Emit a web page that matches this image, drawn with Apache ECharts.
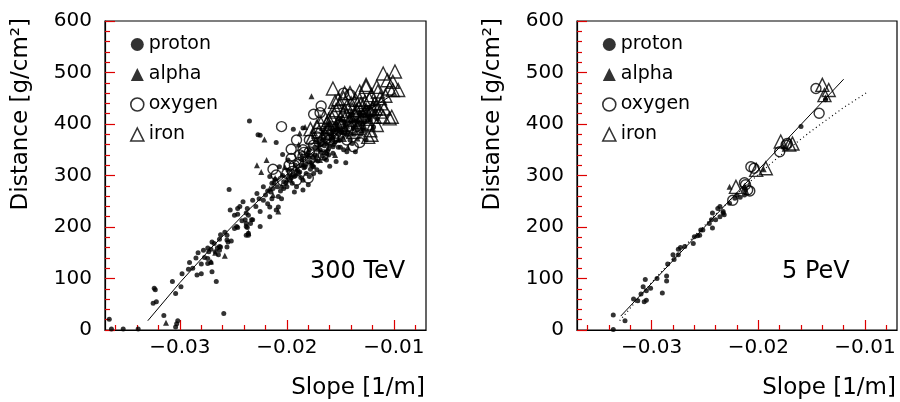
<!DOCTYPE html>
<html>
<head>
<meta charset="utf-8">
<script src="https://cdn.jsdelivr.net/npm/echarts@6/dist/echarts.min.js"></script>
<style>html,body{margin:0;padding:0;background:#fff}#c{width:900px;height:402px}</style>
</head>
<body>
<div id="c"></div>
<script>
// ---------- data ----------
const xMajorTicks = [-0.03, -0.02, -0.01];
const xMinorTicks = [-0.036, -0.034, -0.032, -0.028, -0.026, -0.024, -0.022, -0.018, -0.016, -0.014, -0.012, -0.008];
const panelLabels = ['300 TeV', '5 PeV'];
const speciesNames = ['proton', 'alpha', 'oxygen', 'iron'];

// 300 TeV panel
const proton300 = [[-0.0254,273],[-0.0253,233],[-0.0241,249],[-0.0246,225],[-0.0237,236],[-0.0236,223],[-0.0233,214],[-0.0239,214],[-0.0238,207],[-0.0234,207],[-0.0249,197],[-0.0246,199],[-0.0237,199],[-0.0238,184],[-0.0236,188],[-0.0256,184],[-0.0255,171],[-0.0252,173],[-0.0263,176],[-0.0270,171],[-0.0278,155],[-0.0274,159],[-0.0271,157],[-0.0273,152],[-0.0267,152],[-0.0265,159],[-0.0263,155],[-0.0262,161],[-0.0277,141],[-0.0274,139],[-0.0264,146],[-0.0256,161],[-0.0291,131],[-0.0280,128],[-0.0274,129],[-0.0271,131],[-0.0284,107],[-0.0280,109],[-0.0270,113],[-0.0266,94],[-0.0298,109],[-0.0299,84],[-0.0307,94],[-0.0304,71],[-0.0324,81],[-0.0323,78],[-0.0322,55],[-0.0325,52],[-0.0315,28],[-0.0302,18],[-0.0304,6],[-0.0259,32],[-0.0366,21],[-0.0364,2],[-0.0353,2],[-0.0339,2],[-0.0303,12],
[-0.0235,406],[-0.0227,379],[-0.0225,378],[-0.0210,364],[-0.0194,390],[-0.0204,341],[-0.0199,330],[-0.0246,236],[-0.0249,223],[-0.0238,227],[-0.0225,230],[-0.0222,252],[-0.0216,239],[-0.0208,239],[-0.0208,259],[-0.0213,275],[-0.0200,278],[-0.0197,291],[-0.0193,298],[-0.0188,307],[-0.0183,317],[-0.0179,327],[-0.0174,340],[-0.0169,350],[-0.0163,362],[-0.0157,375],[-0.0225,201],[-0.0232,214],[-0.0238,201],[-0.0236,184],[-0.0247,201],[-0.0256,175],[-0.0263,162],[-0.0210,233],[-0.0216,220],[-0.0207,317],[-0.0216,298],[-0.0222,278],[-0.0228,265],[-0.0232,252],[-0.0179,350],[-0.0172,366],[-0.0166,382],[-0.0160,392],[-0.0154,401],[-0.0185,291],[-0.0179,298],[-0.0172,311],[-0.0191,278],[-0.0185,272],[-0.0163,330],[-0.0157,343],
[-0.0145,325],[-0.0136,346],[-0.0161,340],[-0.0185,392],[-0.0147,350],[-0.0165,333],[-0.0175,317],[-0.0169,307],[-0.0182,304],[-0.0157,356],[-0.0141,369],[-0.0126,369],[-0.0129,392],[-0.0119,394],[-0.0154,327],[-0.0144,346],[-0.0175,304],
[-0.0220,262],[-0.0215,268],[-0.0212,285],[-0.0206,270],[-0.0203,288],[-0.0198,300],[-0.0195,285],[-0.0190,310],[-0.0187,296],[-0.0182,322],[-0.0178,312],[-0.0176,335],[-0.0171,328],[-0.0168,345],[-0.0165,358],[-0.0162,348],[-0.0159,370],[-0.0155,365],[-0.0152,380],[-0.0150,392],[-0.0148,372],[-0.0146,398],[-0.0143,385],[-0.0140,405],[-0.0138,392],[-0.0135,410],[-0.0133,398],[-0.0130,415],[-0.0127,405],[-0.0124,420],[-0.0122,408],[-0.0131,380],[-0.0139,362],[-0.0150,355],[-0.0160,318],[-0.0180,282],[-0.0193,268],[-0.0205,255],[-0.0218,245],[-0.0229,240],[-0.0242,212],[-0.0258,190],[-0.0268,168],[-0.0285,140],[-0.0292,118],
[-0.0218,270],[-0.0214,255],[-0.0211,292],[-0.0209,278],[-0.0204,300],[-0.0201,285],[-0.0199,310],[-0.0196,295],[-0.0192,320],[-0.0189,305],[-0.0186,330],[-0.0184,315],[-0.0181,340],[-0.0177,325],[-0.0174,355],[-0.0173,330],[-0.0170,360],[-0.0167,338],[-0.0164,372],[-0.0161,352],[-0.0158,382],[-0.0156,360],[-0.0153,390],[-0.0151,368],[-0.0149,385],[-0.0147,405],[-0.0144,378],[-0.0142,400],[-0.0139,418],[-0.0137,380],[-0.0134,405],[-0.0132,420],[-0.0129,400],[-0.0128,428],[-0.0125,410],[-0.0123,432],[-0.0121,415],[-0.0118,425],[-0.0134,388],[-0.0146,382],[-0.0156,388],[-0.0168,360],[-0.0180,345],[-0.0192,300],[-0.0203,275],[-0.0214,285],[-0.0226,255],[-0.0244,240],[-0.0262,185],[-0.0283,150],[-0.0288,120],[-0.0152,355],[-0.0140,380],[-0.0128,388],[-0.0116,410],[-0.0163,342],[-0.0176,318],[-0.0187,320]];
const alpha300 = [[-0.0313,14],[-0.0267,150],[-0.0271,133],[-0.0258,144],[-0.0236,189],[-0.0221,370],[-0.0183,394],[-0.0188,382],[-0.0228,320],[-0.0224,307],[-0.0219,330],[-0.0208,230],[-0.0202,317],[-0.0191,311],[-0.0177,323],[-0.0169,330],[-0.0177,454],[-0.0196,302],[-0.0185,322],[-0.0172,340],[-0.0160,360],[-0.0152,372],[-0.0145,392],[-0.0138,410],[-0.0130,388],[-0.0125,430],[-0.0162,385],[-0.0150,410],[-0.0140,425],[-0.0205,280],[-0.0213,262],[-0.0165,345],[-0.0155,340],
[-0.0200,292],[-0.0194,308],[-0.0186,340],[-0.0179,338],[-0.0171,352],[-0.0167,370],[-0.0158,375],[-0.0154,395],[-0.0148,385],[-0.0142,415],[-0.0136,398],[-0.0132,425],[-0.0127,418],[-0.0120,440],[-0.0118,420],[-0.0143,355],[-0.0134,372],[-0.0189,360],[-0.0211,295],[-0.0216,275]];
const oxygen300 = [[-0.0205,395],[-0.0196,351],[-0.0213,312],[-0.0210,301],[-0.0175,419],[-0.0168,435],[-0.0169,422],[-0.0179,346],[-0.0188,340],[-0.0180,295],[-0.0191,291],[-0.0196,333],[-0.0185,350],[-0.0172,382],[-0.0160,369],[-0.0191,369],[-0.0166,340],[-0.0147,460],[-0.0141,457],[-0.0132,364],[-0.0172,375],[-0.0179,369],[-0.0175,359],[-0.0185,337],[-0.0160,388],[-0.0154,382],[-0.0144,369],[-0.0138,356],[-0.0166,356],[-0.0200,304],[-0.0193,320],[-0.0157,395],[-0.0150,400],[-0.0135,395],[-0.0128,410],
[-0.0198,320],[-0.0189,325],[-0.0184,345],[-0.0178,332],[-0.0170,365],[-0.0163,372],[-0.0156,372],[-0.0148,390],[-0.0142,395],[-0.0133,415],[-0.0124,425],[-0.0204,290],[-0.0195,308]];
const iron300 = [[-0.0110,498],[-0.0099,502],[-0.0106,485],[-0.0101,482],[-0.0104,469],[-0.0096,466],[-0.0101,466],[-0.0157,469],[-0.0141,460],[-0.0126,472],[-0.0121,456],[-0.0115,463],[-0.0113,450],[-0.0132,463],[-0.0147,450],[-0.0136,447],[-0.0127,443],[-0.0118,440],[-0.0154,427],[-0.0155,443],[-0.0144,434],[-0.0135,427],[-0.0126,427],[-0.0118,414],[-0.0110,414],[-0.0104,411],[-0.0113,424],[-0.0169,404],[-0.0161,408],[-0.0149,398],[-0.0141,408],[-0.0132,404],[-0.0124,401],[-0.0116,398],[-0.0122,388],[-0.0124,375],[-0.0138,385],[-0.0151,379],[-0.0157,424],[-0.0165,414],[-0.0136,417],[-0.0129,417],[-0.0144,417],[-0.0151,437],[-0.0146,460],[-0.0126,476],[-0.0116,472],[-0.0121,379],[-0.0102,414],[-0.0132,447],[-0.0165,382],[-0.0176,375],[-0.0172,395],[-0.0160,395],[-0.0148,420],[-0.0140,440],[-0.0133,432],[-0.0120,430],
[-0.0178,390],[-0.0170,385],[-0.0163,400],[-0.0158,412],[-0.0153,400],[-0.0146,425],[-0.0139,428],[-0.0131,438],[-0.0123,448],[-0.0117,430],[-0.0112,440],[-0.0108,455],[-0.0134,392],[-0.0125,410],[-0.0148,405],[-0.0162,390],[-0.0109,430],[-0.0152,448]];
const fit300X = [-0.0330, -0.0300, -0.0270, -0.0240, -0.0210, -0.0180, -0.0150, -0.0120, -0.0099];
const fit300Y = [18, 92, 161, 225, 284, 338, 387, 432, 460];

// 5 PeV panel
const proton5 = [[-0.0336,29],[-0.0336,1],[-0.0325,18],[-0.0317,60],[-0.0313,57],[-0.0310,70],[-0.0308,84],[-0.0306,98],[-0.0307,55],[-0.0305,58],[-0.0305,76],[-0.0301,81],[-0.0295,100],[-0.0290,72],[-0.0285,128],[-0.0286,105],[-0.0286,95],[-0.0279,137],[-0.0280,146],[-0.0275,146],[-0.0275,157],[-0.0269,162],[-0.0273,160],[-0.0261,168],[-0.0257,183],[-0.0255,184],[-0.0252,194],[-0.0243,198],[-0.0244,214],[-0.0240,214],[-0.0236,220],[-0.0243,227],[-0.0238,236],[-0.0233,230],[-0.0227,246],[-0.0222,256],[-0.0220,262],[-0.0212,272],[-0.0213,262],[-0.0236,240],[-0.0233,227],[-0.0246,207],[-0.0254,194],[-0.0260,181],[-0.0160,395],[-0.0137,447],[-0.0217,258],[-0.0232,224]];
const alpha5 = [[-0.0227,278],[-0.0213,280],[-0.0195,312],[-0.0176,357],[-0.0137,452],[-0.0211,268]];
const oxygen5 = [[-0.0224,252],[-0.0213,286],[-0.0212,282],[-0.0210,272],[-0.0208,270],[-0.0207,317],[-0.0204,314],[-0.0180,346],[-0.0173,362],[-0.0146,469],[-0.0143,421],[-0.0174,359]];
const iron5 = [[-0.0221,278],[-0.0202,311],[-0.0193,314],[-0.0179,366],[-0.0168,362],[-0.0140,476],[-0.0134,466],[-0.0138,456],[-0.0171,360]];
const fit5X = [-0.0329, -0.0120];
const fit5Y = [27, 487];

// ---------- chart ----------
const FONT = 'DejaVu Sans';
const TICK = '#d00';
const chart = echarts.init(document.getElementById('c'));
const grids = [{left: 105}, {left: 577}];
const pair = (xs, ys) => xs.map((x, i) => [x, ys[i]]);
const fmt = v => (v < 0 ? '\u2212' : '') + Math.abs(v).toFixed(2);

const xAxes = [], yAxes = [], gridOpts = [], legends = [], series = [], graphics = [];
const styles = {
  proton: {symbol: 'circle', size: 5, item: {color: '#000'}},
  alpha: {symbol: 'triangle', size: 6, item: {color: '#000'}},
  oxygen: {symbol: 'circle', size: 10, item: {color: 'transparent', borderColor: '#000', borderWidth: 1.4}},
  iron: {symbol: 'triangle', size: 13, item: {color: 'transparent', borderColor: '#000', borderWidth: 1.4}}
};
const legendItem = {
  proton: {color: '#000'},
  alpha: {color: '#000'},
  oxygen: {color: 'transparent', borderColor: '#000', borderWidth: 1.6},
  iron: {color: 'transparent', borderColor: '#000', borderWidth: 1.6}
};
const panelData = [
  [proton300, alpha300, oxygen300, iron300],
  [proton5, alpha5, oxygen5, iron5]
];

grids.forEach((g, gi) => {
  gridOpts.push({left: g.left, top: 21, width: gi === 0 ? 321 : 320, height: 309, show: true,
    borderColor: '#000', borderWidth: 1.2, backgroundColor: 'transparent'});
  xAxes.push({gridIndex: gi, type: 'value', min: -0.037, max: -0.007, position: 'bottom',
    axisLine: {show: true, lineStyle: {color: '#000', width: 1.2}},
    axisTick: {show: true, inside: true, length: 10, customValues: xMajorTicks, lineStyle: {color: TICK, width: 1.2}},
    axisLabel: {show: true, customValues: xMajorTicks, formatter: fmt, color: '#000', fontFamily: FONT, fontSize: 20, margin: 8},
    splitLine: {show: false}});
  xAxes.push({gridIndex: gi, type: 'value', min: -0.037, max: -0.007, position: 'bottom', offset: 0,
    axisLine: {show: false},
    axisTick: {show: true, inside: true, length: 5, customValues: xMinorTicks, lineStyle: {color: TICK, width: 1.2}},
    axisLabel: {show: false}, splitLine: {show: false}});
  yAxes.push({gridIndex: gi, type: 'value', min: 0, max: 600, interval: 100,
    axisLine: {show: true, lineStyle: {color: '#000', width: 1.2}},
    axisTick: {show: true, inside: true, length: 10, lineStyle: {color: TICK, width: 1.2}},
    minorTick: {show: true, splitNumber: 5, length: 5, lineStyle: {color: TICK, width: 1.2}},
    axisLabel: {show: true, color: '#000', fontFamily: FONT, fontSize: 20, margin: 13},
    splitLine: {show: false}, minorSplitLine: {show: false}});
  legends.push({orient: 'vertical', left: g.left + 20, top: 30, itemWidth: 13, itemHeight: 13, itemGap: 11,
    selectedMode: false, textStyle: {fontFamily: FONT, fontSize: 19, color: '#000'},
    data: speciesNames.map(n => ({name: n, icon: styles[n].symbol, itemStyle: legendItem[n]}))});
  speciesNames.forEach((n, si) => {
    series.push({type: 'scatter', name: n, xAxisIndex: gi * 2, yAxisIndex: gi,
      symbol: styles[n].symbol, symbolSize: styles[n].size, itemStyle: styles[n].item,
      emphasis: {disabled: true}, silent: true, data: panelData[gi][si]});
  });
  const right = g.left + (gi === 0 ? 321 : 320);
  graphics.push({type: 'text', x: g.left - 84, y: 18, rotation: Math.PI / 2,
    style: {text: 'Distance [g/cm\u00b2]', font: '23px "' + FONT + '"', fill: '#000', textAlign: 'right', textVerticalAlign: 'middle'}});
  graphics.push({type: 'text', x: right - 1, y: 388,
    style: {text: 'Slope [1/m]', font: '23px "' + FONT + '"', fill: '#000', textAlign: 'right', textVerticalAlign: 'middle'}});
});

series.push({type: 'line', name: 'fit300', xAxisIndex: 0, yAxisIndex: 0, showSymbol: false, silent: true,
  lineStyle: {color: '#000', width: 1}, data: pair(fit300X, fit300Y)});
series.push({type: 'line', name: 'fit5', xAxisIndex: 2, yAxisIndex: 1, showSymbol: false, silent: true,
  lineStyle: {color: '#000', width: 1}, data: pair(fit5X, fit5Y)});
series.push({type: 'line', name: 'fit300ref', xAxisIndex: 2, yAxisIndex: 1, showSymbol: false, silent: true,
  lineStyle: {color: '#000', width: 1.2, type: [1, 3]}, data: pair(fit300X, fit300Y)});

graphics.push({type: 'text', x: 310, y: 272, style: {text: panelLabels[0], font: '24px "' + FONT + '"', fill: '#000', textAlign: 'left', textVerticalAlign: 'middle'}});
graphics.push({type: 'text', x: 782, y: 272, style: {text: panelLabels[1], font: '24px "' + FONT + '"', fill: '#000', textAlign: 'left', textVerticalAlign: 'middle'}});

chart.setOption({
  animation: false,
  backgroundColor: '#fff',
  grid: gridOpts,
  xAxis: xAxes,
  yAxis: yAxes,
  legend: legends,
  series: series,
  graphic: graphics
});
</script>
</body>
</html>
